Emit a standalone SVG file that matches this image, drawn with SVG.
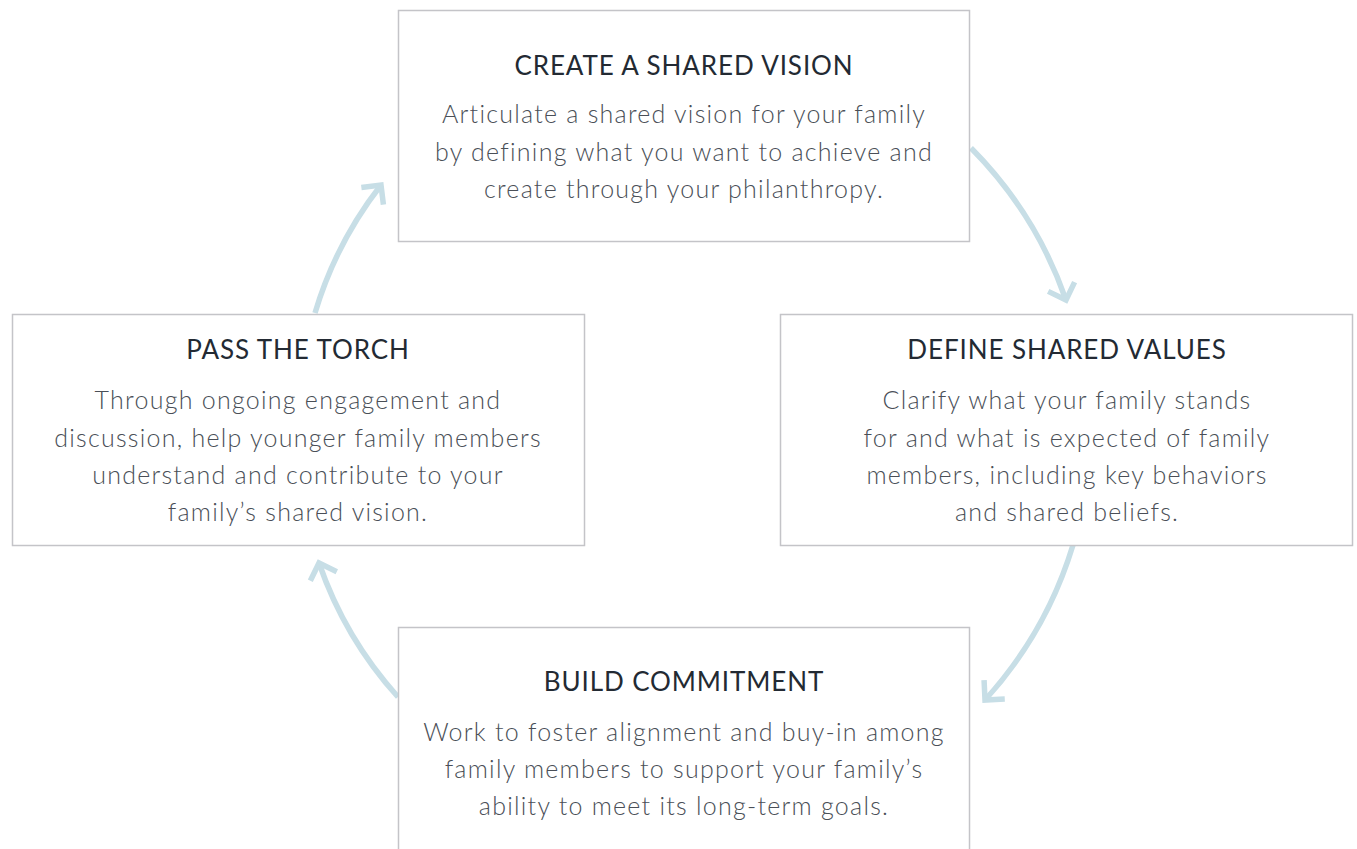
<svg xmlns="http://www.w3.org/2000/svg" width="1357" height="849" viewBox="0 0 1357 849">
  <style>
    .box { fill: #ffffff; stroke: #c4c4c8; stroke-width: 1.5; }
    .title { font-family: Lato, "Open Sans", sans-serif; font-size: 26px; font-weight: 400; letter-spacing: 0.9px; fill: #232a33; text-anchor: middle; }
    .body { font-family: Lato, "Open Sans", sans-serif; font-size: 25px; font-weight: 300; letter-spacing: 1.25px; fill: #4a4f57; text-anchor: middle; }
    .flow { fill: none; stroke: #c7dee6; stroke-width: 5.5; }
  </style>
  <defs>
    <marker id="chevron" markerUnits="userSpaceOnUse" markerWidth="40" markerHeight="40" viewBox="-20 -20 40 40" refX="0" refY="0" orient="auto">
      <path d="M -14 -14 L 0 0 L -14 14" fill="none" stroke="#c7dee6" stroke-width="5.5" stroke-linejoin="miter"/>
    </marker>
  </defs>
  <rect width="1357" height="849" fill="#ffffff"/>

  <!-- cycle connectors -->
  <g id="connectors">
    <path class="flow" d="M 971 148 A 405 405 0 0 1 1066 300" marker-end="url(#chevron)"/>
    <path class="flow" d="M 1073 545 A 405 405 0 0 1 985 700" marker-end="url(#chevron)"/>
    <path class="flow" d="M 398 697 A 390 390 0 0 1 319 563" marker-end="url(#chevron)"/>
    <path class="flow" d="M 315 313 A 388 388 0 0 1 381 185" marker-end="url(#chevron)"/>
  </g>

  <g id="node-vision">
    <rect class="box" x="398.5" y="10.5" width="571" height="231"/>
    <text class="title" x="684" y="75">CREATE A SHARED VISION</text>
    <text class="body" x="684" y="123">Articulate a shared vision for your family</text>
    <text class="body" x="684" y="161">by defining what you want to achieve and</text>
    <text class="body" x="684" y="198">create through your philanthropy.</text>
  </g>

  <g id="node-values">
    <rect class="box" x="780.5" y="314.5" width="572" height="231"/>
    <text class="title" x="1067" y="359">DEFINE SHARED VALUES</text>
    <text class="body" x="1067" y="409">Clarify what your family stands</text>
    <text class="body" x="1067" y="447">for and what is expected of family</text>
    <text class="body" x="1067" y="484">members, including key behaviors</text>
    <text class="body" x="1067" y="521">and shared beliefs.</text>
  </g>

  <g id="node-torch">
    <rect class="box" x="12.5" y="314.5" width="572" height="231"/>
    <text class="title" x="298" y="359">PASS THE TORCH</text>
    <text class="body" x="298" y="409">Through ongoing engagement and</text>
    <text class="body" x="298" y="447">discussion, help younger family members</text>
    <text class="body" x="298" y="484">understand and contribute to your</text>
    <text class="body" x="298" y="521">family’s shared vision.</text>
  </g>

  <g id="node-commitment">
    <rect class="box" x="398.5" y="627.5" width="571" height="240"/>
    <text class="title" x="684" y="691">BUILD COMMITMENT</text>
    <text class="body" x="684" y="741">Work to foster alignment and buy-in among</text>
    <text class="body" x="684" y="778">family members to support your family’s</text>
    <text class="body" x="684" y="815">ability to meet its long-term goals.</text>
  </g>
</svg>
